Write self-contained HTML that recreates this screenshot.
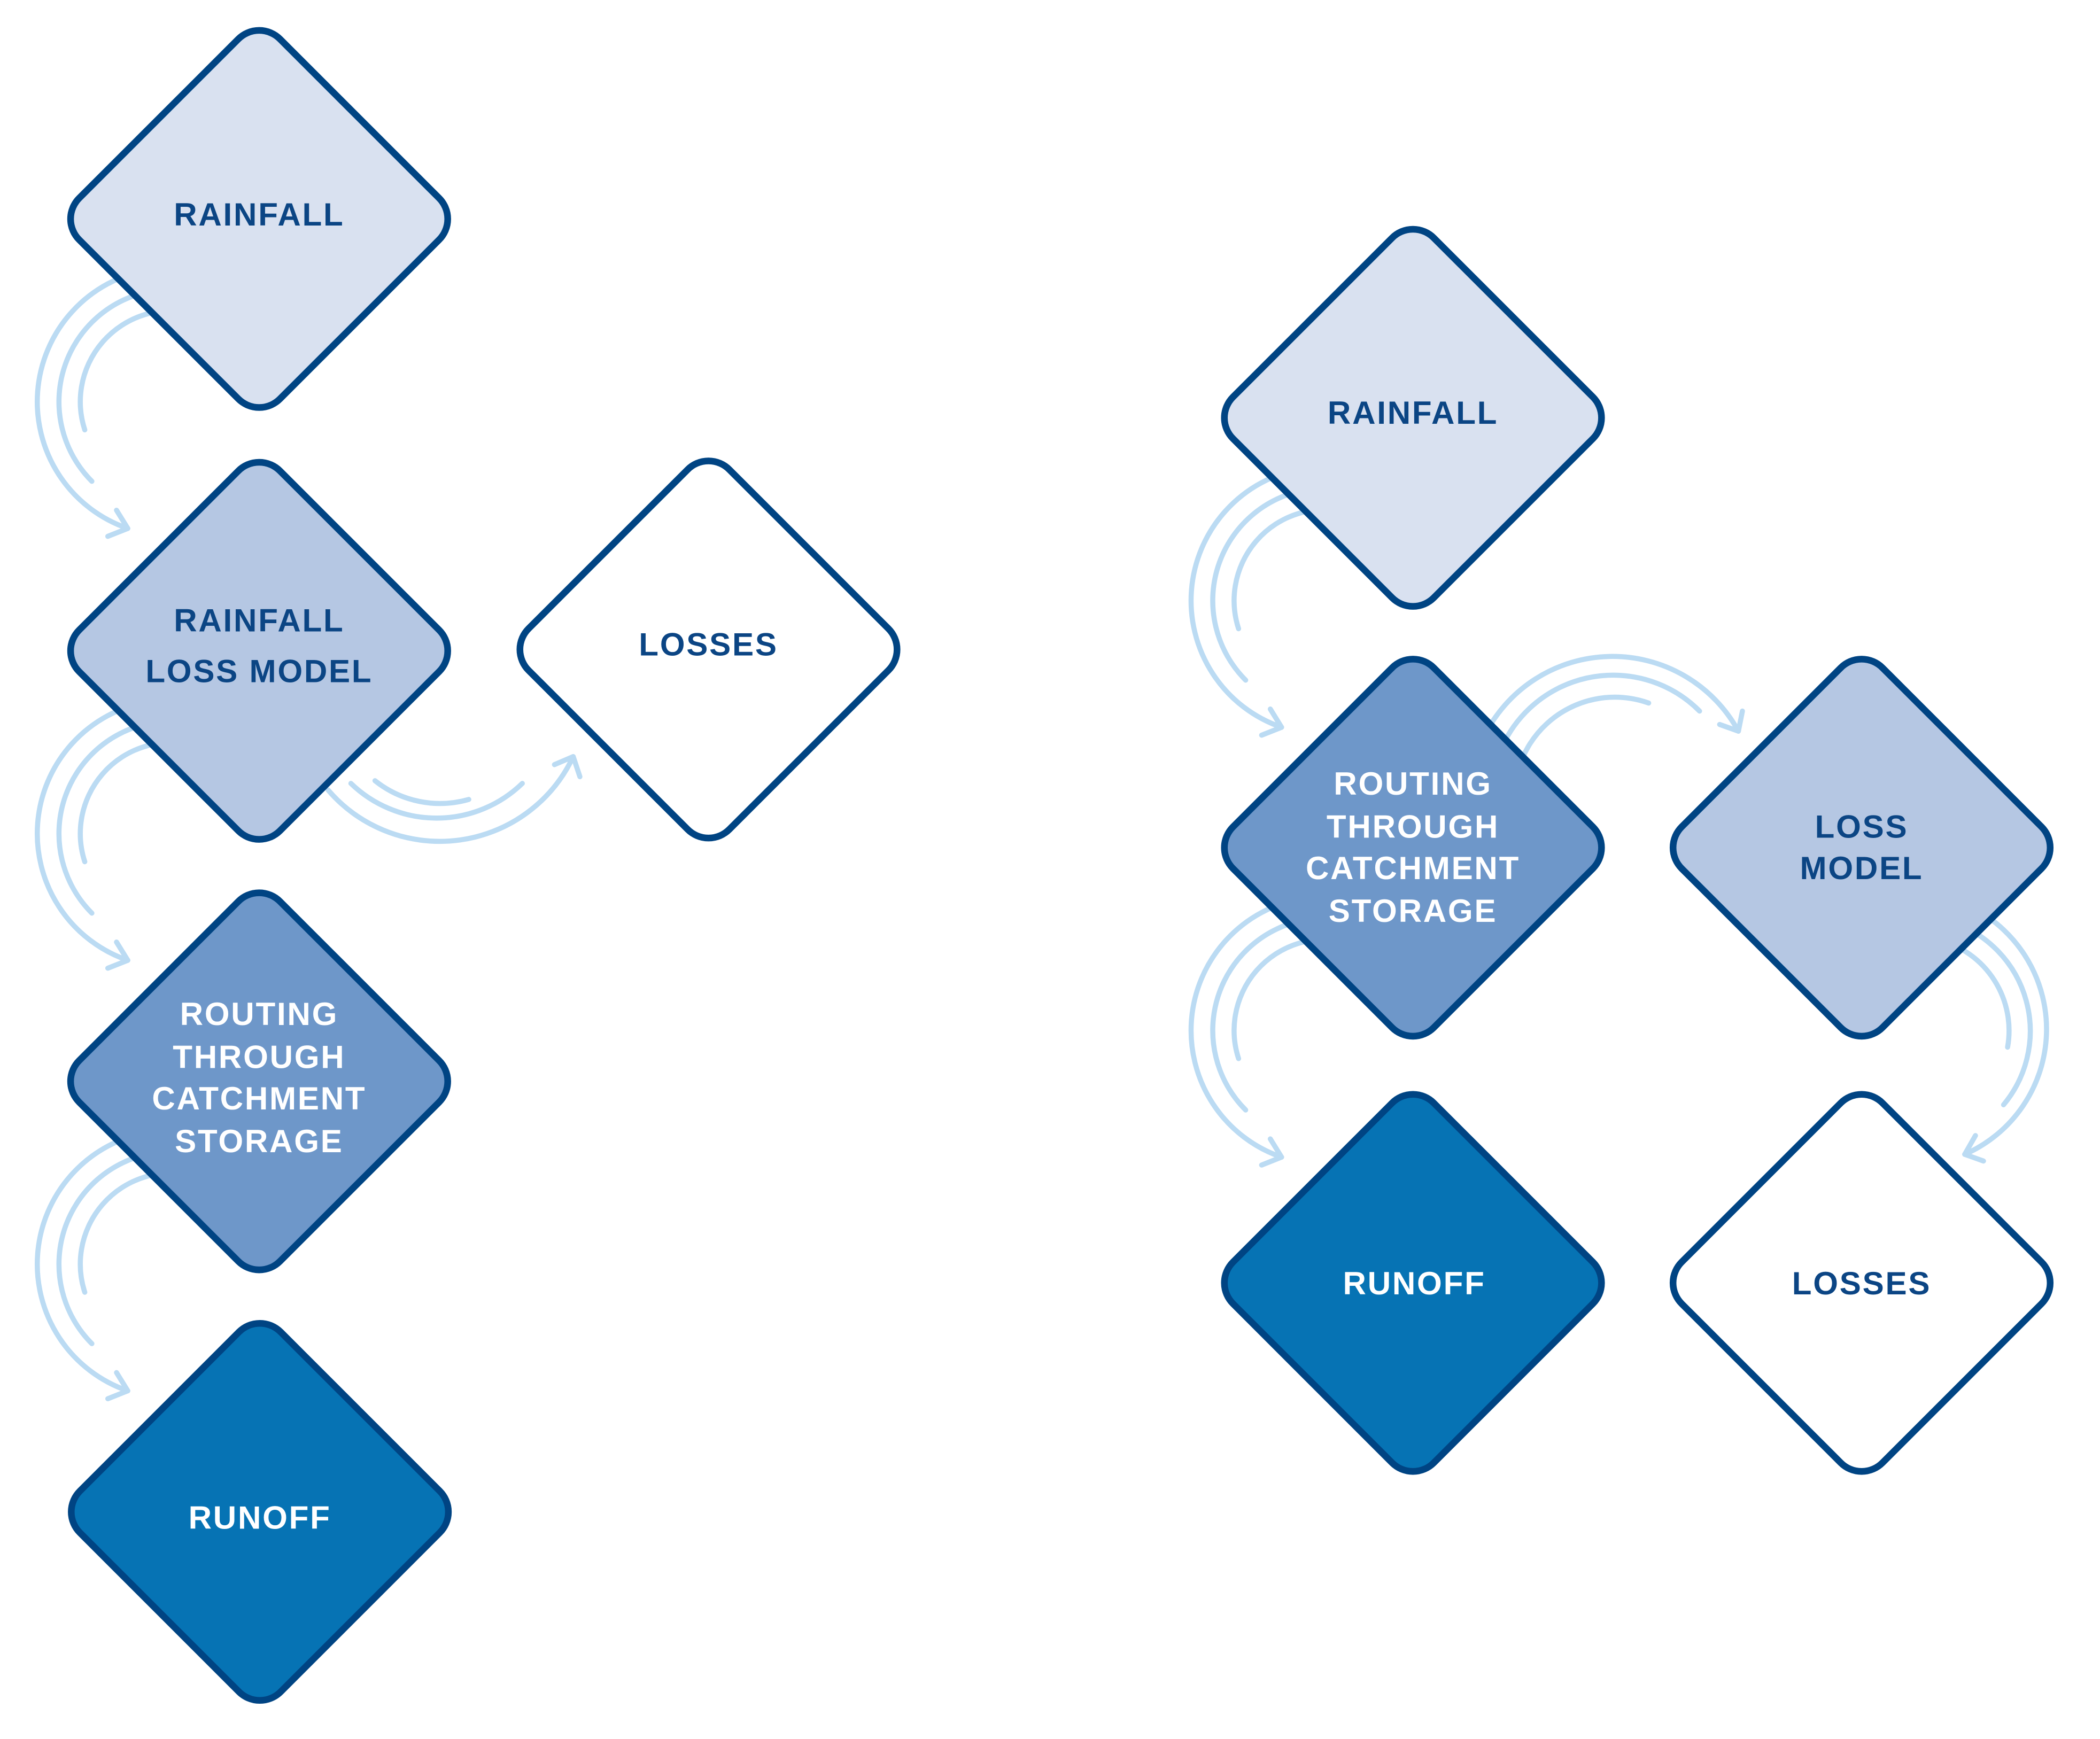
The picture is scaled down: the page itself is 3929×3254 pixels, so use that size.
<!DOCTYPE html>
<html><head><meta charset="utf-8"><style>
html,body{margin:0;padding:0;background:#fff;}
svg{display:block;}
text{font-family:"Liberation Sans",sans-serif;font-weight:bold;font-size:24px;letter-spacing:1.1px;text-anchor:middle;}
.d{fill:#0b4584;} .w{fill:#ffffff;}
.a{fill:none;stroke:#bbdbf3;stroke-width:3.8;stroke-linecap:round;stroke-linejoin:round;}
.n{stroke:#004483;stroke-width:5;}
</style></head><body>
<svg width="3929" height="3254" viewBox="0 0 1568 1298.6" xmlns="http://www.w3.org/2000/svg">
<defs>
<g id="arrL">
<path class="a" d="M110.6,201.5 A100,100 0 0 0 95.4,394.6"/>
<path class="a" d="M87,381 L95.4,394.6 L80.5,400.5"/>
<path class="a" d="M113.4,217.3 A84,84 0 0 0 68.6,359.4"/>
<path class="a" d="M139.8,233 A68,68 0 0 0 63.3,321"/>
</g>
</defs>
<use href="#arrL"/>
<use href="#arrL" transform="translate(0,322.5)"/>
<use href="#arrL" transform="translate(0,644)"/>
<use href="#arrL" transform="translate(861.5,148.5)"/>
<use href="#arrL" transform="translate(861.5,469.5)"/>
<!-- loss model -> losses (left) -->
<path class="a" d="M245,590 A110,110 0 0 0 428,565"/>
<path class="a" d="M414,571 L428,565 L433,580"/>
<path class="a" d="M262,585 A92,92 0 0 0 390,585"/>
<path class="a" d="M280,583 A78,78 0 0 0 350,597"/>
<!-- routing -> loss model (right) -->
<path class="a" d="M1108,550 A107,107 0 0 1 1298,546"/>
<path class="a" d="M1301,531 L1298,546 L1284,541"/>
<path class="a" d="M1119,564 A91,91 0 0 1 1269,531"/>
<path class="a" d="M1133,614 A75,75 0 0 1 1231,525"/>
<!-- loss model -> losses (right) -->
<path class="a" d="M1473,678 A102,102 0 0 1 1467,862"/>
<path class="a" d="M1475,848 L1467,862 L1481,867"/>
<path class="a" d="M1459,689 A86,86 0 0 1 1496,825"/>
<path class="a" d="M1448,702 A70,70 0 0 1 1499,782"/>

<g class="n">
<rect x="-106" y="-106" width="212" height="212" rx="22" transform="translate(193.5,163.5) rotate(45)" fill="#d9e1f0"/>
<rect x="-106" y="-106" width="212" height="212" rx="22" transform="translate(193.5,486) rotate(45)" fill="#b5c7e3"/>
<rect x="-106" y="-106" width="212" height="212" rx="22" transform="translate(529,485) rotate(45)" fill="#ffffff"/>
<rect x="-106" y="-106" width="212" height="212" rx="22" transform="translate(193.5,807.5) rotate(45)" fill="#6e97c9"/>
<rect x="-106" y="-106" width="212" height="212" rx="22" transform="translate(194,1129) rotate(45)" fill="#0673b4"/>
<rect x="-106" y="-106" width="212" height="212" rx="22" transform="translate(1055,312) rotate(45)" fill="#d9e1f0"/>
<rect x="-106" y="-106" width="212" height="212" rx="22" transform="translate(1055,633) rotate(45)" fill="#6e97c9"/>
<rect x="-106" y="-106" width="212" height="212" rx="22" transform="translate(1390,633) rotate(45)" fill="#b5c7e3"/>
<rect x="-106" y="-106" width="212" height="212" rx="22" transform="translate(1055,958) rotate(45)" fill="#0673b4"/>
<rect x="-106" y="-106" width="212" height="212" rx="22" transform="translate(1390,958) rotate(45)" fill="#ffffff"/>
</g>

<text class="d" x="193.5" y="168.5">RAINFALL</text>
<text class="d" x="193.5" y="471.5">RAINFALL</text>
<text class="d" x="193.5" y="509.5">LOSS MODEL</text>
<text class="d" x="529" y="489.5">LOSSES</text>
<text class="w" x="193.5" y="765.5">ROUTING</text>
<text class="w" x="193.5" y="797.5">THROUGH</text>
<text class="w" x="193.5" y="828.5">CATCHMENT</text>
<text class="w" x="193.5" y="860.5">STORAGE</text>
<text class="w" x="194" y="1141.5">RUNOFF</text>

<text class="d" x="1055" y="316.5">RAINFALL</text>
<text class="w" x="1055" y="593.5">ROUTING</text>
<text class="w" x="1055" y="625.5">THROUGH</text>
<text class="w" x="1055" y="656.5">CATCHMENT</text>
<text class="w" x="1055" y="688.5">STORAGE</text>
<text class="d" x="1390" y="625.5">LOSS</text>
<text class="d" x="1390" y="656.5">MODEL</text>
<text class="w" x="1056" y="966.5">RUNOFF</text>
<text class="d" x="1390" y="966.5">LOSSES</text>
</svg>
</body></html>
